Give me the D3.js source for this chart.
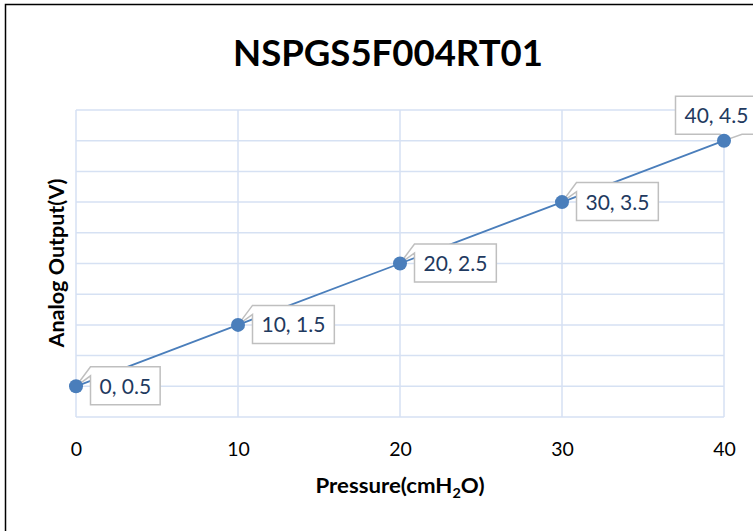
<!DOCTYPE html>
<html>
<head>
<meta charset="utf-8">
<script src="https://cdn.jsdelivr.net/npm/d3@7"></script>
<style>
  html, body { margin: 0; padding: 0; background: #fff; }
  svg { display: block; }
</style>
</head>
<body>
<svg id="chart" width="753" height="531"></svg>
<script>
// ---- data ----
const chartTitle = "NSPGS5F004RT01";
const pressure = [0, 10, 20, 30, 40];          // x values (cmH2O)
const output = [0.5, 1.5, 2.5, 3.5, 4.5];      // y values (V)
const xTickValues = [0, 10, 20, 30, 40];
const yGridValues = [0, 0.5, 1, 1.5, 2, 2.5, 3, 3.5, 4, 4.5, 5];
const xTitle = "Pressure(cmH";
const xTitleSub = "2";
const xTitleEnd = "O)";
const yTitle = "Analog Output(V)";

const svg = d3.select("#chart");
const W = 753, H = 531;
const FONT = "Lato, 'Open Sans', sans-serif";

const x = d3.scaleLinear().domain([0, 40]).range([76, 724]);
const y = d3.scaleLinear().domain([0, 5]).range([417, 110]);

svg.append("rect").attr("width", W).attr("height", H).attr("fill", "#fff");

// outer frame
svg.append("rect")
  .attr("x", 5.5).attr("y", 4.5).attr("width", 900).attr("height", 700)
  .attr("fill", "none").attr("stroke", "#000").attr("stroke-width", 1.5);

// title
svg.append("text")
  .attr("x", 388).attr("y", 66)
  .attr("text-anchor", "middle")
  .attr("font-family", FONT).attr("font-weight", "bold")
  .attr("font-size", 36).attr("fill", "#000")
  .attr("textLength", 310).attr("lengthAdjust", "spacingAndGlyphs")
  .text(chartTitle);

// grid
const gridColor = "#d6e1f3";
const g = svg.append("g");
g.selectAll("line.h").data(yGridValues).join("line")
  .attr("x1", x(0)).attr("x2", x(40))
  .attr("y1", d => y(d)).attr("y2", d => y(d))
  .attr("stroke", gridColor).attr("stroke-width", 1.5);
g.selectAll("line.v").data(xTickValues).join("line")
  .attr("y1", y(0)).attr("y2", y(5))
  .attr("x1", d => x(d)).attr("x2", d => x(d))
  .attr("stroke", gridColor).attr("stroke-width", 1.5);

// x axis tick labels via d3 axis
const xAxis = d3.axisBottom(x).tickValues(xTickValues).tickSize(0).tickPadding(0).tickFormat(d3.format("d"));
const ax = svg.append("g").attr("transform", `translate(0, ${y(0)})`).call(xAxis);
ax.select(".domain").remove();
ax.selectAll("text")
  .attr("font-family", FONT).attr("font-size", 19.5).attr("fill", "#000")
  .attr("dy", null).attr("y", 39);

// axis titles
const xt = svg.append("text")
  .attr("x", 400).attr("y", 493)
  .attr("text-anchor", "middle")
  .attr("font-family", FONT).attr("font-weight", "bold")
  .attr("font-size", 21.5).attr("fill", "#000")
  .attr("textLength", 169).attr("lengthAdjust", "spacingAndGlyphs");
xt.append("tspan").text(xTitle);
xt.append("tspan").attr("font-size", 14).attr("dy", 5).text(xTitleSub);
xt.append("tspan").attr("dy", -5).text(xTitleEnd);

svg.append("text")
  .attr("transform", "translate(64, 263) rotate(-90)")
  .attr("text-anchor", "middle")
  .attr("font-family", FONT).attr("font-weight", "bold")
  .attr("font-size", 21).attr("fill", "#000")
  .attr("textLength", 169).attr("lengthAdjust", "spacingAndGlyphs")
  .text(yTitle);

// line
const pts = pressure.map((p, i) => [p, output[i]]);
const lineColor = "#4a7ebb";
svg.append("path")
  .datum(pts)
  .attr("d", d3.line().x(d => x(d[0])).y(d => y(d[1])))
  .attr("fill", "none").attr("stroke", lineColor).attr("stroke-width", 1.8);

// data labels (callouts)
const labels = svg.append("g");
pts.forEach((d, i) => {
  const px = x(d[0]), py = y(d[1]);
  const txt = `${d[0]}, ${d[1]}`;
  const gl = labels.append("g");
  const t = gl.append("text")
    .attr("font-family", FONT).attr("font-size", 21).attr("fill", "#1f3a60")
    .text(txt);
  const bb = t.node().getBBox();
  const pad = 9, bh = 38;
  const bw = bb.width + pad * 2;
  let bx, by, path;
  if (i < pts.length - 1) {
    bx = px + 14.5; by = py - 19.5;
    path = `M${bx},${by} L${bx + bw},${by} L${bx + bw},${by + bh} L${bx},${by + bh} L${bx},${by + 9} L${px},${py} Z`;
  } else {
    bx = px - 48.5; by = py - 44.5;
    path = `M${bx},${by} L${bx + bw},${by} L${bx + bw},${by + bh} L${px + 18},${by + bh} L${px},${py} L${px - 4},${by + bh} L${bx},${by + bh} Z`;
  }
  gl.insert("path", "text")
    .attr("d", path)
    .attr("fill", "#fff").attr("stroke", "#bfbfbf").attr("stroke-width", 1.5);
  t.attr("x", bx + pad).attr("y", by + bh / 2 + 8);
});

// markers on top
svg.append("g").selectAll("circle").data(pts).join("circle")
  .attr("cx", d => x(d[0])).attr("cy", d => y(d[1]))
  .attr("r", 7).attr("fill", lineColor);
</script>
</body>
</html>
